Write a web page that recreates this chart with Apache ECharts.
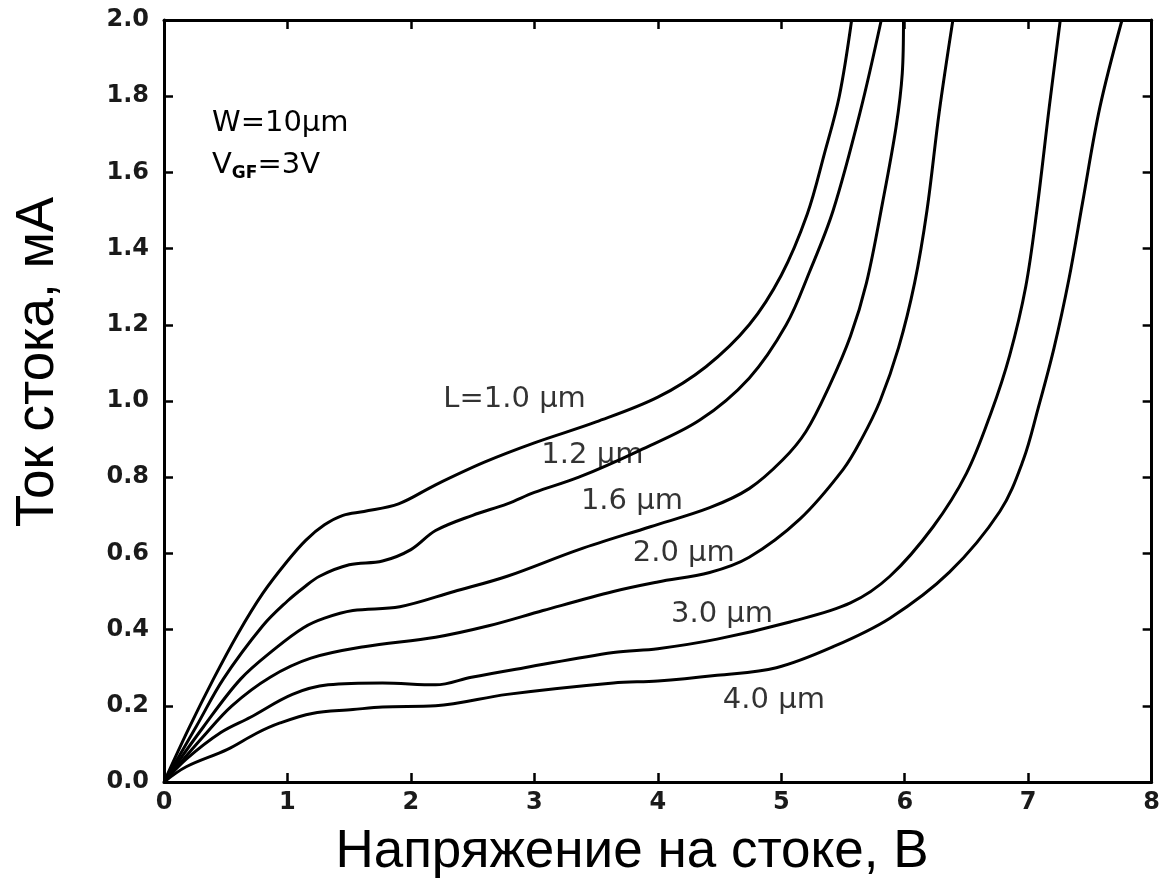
<!DOCTYPE html>
<html>
<head>
<meta charset="utf-8">
<script src="https://cdn.jsdelivr.net/npm/echarts@6/dist/echarts.min.js"></script>
<style>
html,body{margin:0;padding:0;background:#fff;}
#chart{width:1163px;height:879px;}
</style>
</head>
<body>
<div id="chart"></div>
<script>
// Drain voltage (V) vs drain current (mA), one array per channel length
const curveL10 = [[0,0],[0.2,0.14],[0.4,0.27],[0.6,0.39],[0.8,0.495],[1.0,0.58],[1.15,0.635],[1.3,0.675],[1.45,0.70],[1.62,0.71],[1.9,0.73],[2.2,0.78],[2.6,0.84],[3.0,0.89],[3.5,0.945],[4.0,1.01],[4.39,1.09],[4.74,1.20],[5.0,1.33],[5.21,1.49],[5.35,1.65],[5.47,1.80],[5.57,2.0]];
const curveL12 = [[0,0],[0.26,0.145],[0.48,0.27],[0.8,0.41],[1.0,0.475],[1.13,0.51],[1.26,0.54],[1.5,0.57],[1.77,0.58],[2.0,0.61],[2.2,0.66],[2.5,0.70],[2.78,0.73],[3.0,0.76],[3.36,0.80],[3.85,0.87],[4.34,0.95],[4.74,1.06],[5.04,1.20],[5.23,1.34],[5.42,1.50],[5.64,1.76],[5.81,2.0]];
const curveL16 = [[0,0],[0.32,0.145],[0.62,0.27],[0.9,0.35],[1.13,0.405],[1.3,0.43],[1.53,0.45],[1.91,0.46],[2.35,0.50],[2.78,0.54],[3.36,0.61],[3.94,0.67],[4.42,0.72],[4.74,0.77],[5.01,0.845],[5.2,0.92],[5.39,1.04],[5.56,1.17],[5.69,1.31],[5.82,1.52],[5.93,1.72],[5.98,1.86],[5.99,2.0]];
const curveL20 = [[0,0],[0.32,0.12],[0.55,0.2],[0.86,0.275],[1.19,0.325],[1.62,0.355],[2.2,0.38],[2.63,0.41],[3.07,0.45],[3.64,0.50],[4.0,0.525],[4.42,0.55],[4.74,0.59],[5.15,0.69],[5.5,0.82],[5.65,0.90],[5.8,1.0],[5.95,1.14],[6.08,1.31],[6.18,1.50],[6.28,1.76],[6.39,2.0]];
const curveL30 = [[0,0],[0.18,0.06],[0.46,0.13],[0.7,0.17],[1.04,0.23],[1.33,0.255],[1.77,0.26],[2.2,0.255],[2.49,0.275],[2.92,0.30],[3.64,0.34],[4.0,0.35],[4.48,0.375],[5.07,0.42],[5.56,0.47],[5.88,0.54],[6.23,0.67],[6.5,0.81],[6.7,0.97],[6.85,1.12],[6.98,1.30],[7.07,1.50],[7.17,1.77],[7.26,2.0]];
const curveL40 = [[0,0],[0.18,0.04],[0.51,0.085],[0.75,0.128],[0.94,0.155],[1.2,0.18],[1.53,0.19],[1.77,0.197],[2.2,0.20],[2.78,0.23],[3.64,0.26],[4.0,0.265],[4.48,0.28],[4.96,0.30],[5.42,0.355],[5.88,0.43],[6.36,0.55],[6.77,0.71],[6.96,0.845],[7.08,0.98],[7.21,1.14],[7.33,1.32],[7.44,1.52],[7.58,1.77],[7.76,2.0]];

const curveNames = ['L=1.0 µm','1.2 µm','1.6 µm','2.0 µm','3.0 µm','4.0 µm'];
const curves = [curveL10, curveL12, curveL16, curveL20, curveL30, curveL40];
// label anchors in data coordinates (V, mA)
const labelAnchors = [[2.84,1.003],[3.47,0.856],[3.79,0.735],[4.21,0.60],[4.52,0.44],[4.94,0.215]];

const xTitle = 'Напряжение на стоке, В';
const yTitle = 'Ток стока, мА';

const chart = echarts.init(document.getElementById('chart'));
const tickFont = {fontFamily:'DejaVu Sans, sans-serif', fontSize:24, fontWeight:'bold', color:'#1a1a1a'};
const frameAxis = {
  axisLine:{show:true, onZero:false, lineStyle:{color:'#000', width:3}},
  axisTick:{show:true, inside:true, length:9, lineStyle:{color:'#000', width:2.5}},
  splitLine:{show:false}
};

const series = curves.map((c) => ({
  type:'line', data:c, xAxisIndex:0, yAxisIndex:0,
  smooth:0.35, showSymbol:false, symbol:'none', silent:true,
  lineStyle:{color:'#000', width:3}, z:3
}));
series.push({
  type:'scatter', xAxisIndex:0, yAxisIndex:0, symbolSize:0, silent:true, z:5,
  data: labelAnchors.map((p,i)=>({value:p, name:curveNames[i]})),
  label:{show:true, position:'inside', formatter:p=>p.name,
    fontFamily:'DejaVu Sans, sans-serif', fontSize:29, color:'#000'}
});

chart.setOption({
  animation:false,
  backgroundColor:'#fff',
  grid:{left:164, right:11, top:20, bottom:97, show:false},
  xAxis:[Object.assign({
    type:'value', min:0, max:8, interval:1, position:'bottom',
    axisLabel:Object.assign({margin:9, formatter:v=>String(v)}, tickFont)
  }, frameAxis), Object.assign({
    type:'value', min:0, max:8, interval:1, position:'top',
    axisLabel:{show:false}
  }, frameAxis)],
  yAxis:[Object.assign({
    type:'value', min:0, max:2, interval:0.2, position:'left',
    axisLabel:Object.assign({margin:15, formatter:v=>v.toFixed(1)}, tickFont)
  }, frameAxis), Object.assign({
    type:'value', min:0, max:2, interval:0.2, position:'right',
    axisLabel:{show:false}
  }, frameAxis)],
  graphic:[{
    type:'text', left:212, top:109, z:10,
    style:{text:'W=10µm', font:'29px "DejaVu Sans", sans-serif', fill:'#000'}
  },{
    type:'text', left:212, top:151, z:10,
    style:{text:'{n|V}{s|GF}{n|=3V}', fill:'#000',
      rich:{n:{fontFamily:'DejaVu Sans, sans-serif', fontSize:29, fill:'#000'},
            s:{fontFamily:'DejaVu Sans, sans-serif', fontSize:17, fontWeight:'bold', fill:'#000', padding:[16,0,0,0]}}}
  },{
    type:'text', x:632, y:852, z:10,
    style:{text:xTitle, font:'53px "Liberation Sans", Arial, sans-serif', fill:'#000', align:'center', verticalAlign:'middle'}
  },{
    type:'text', x:38, y:362, rotation:Math.PI/2, z:10,
    style:{text:yTitle, font:'53px "Liberation Sans", Arial, sans-serif', fill:'#000', align:'center', verticalAlign:'middle'}
  }],
  series:series
});
</script>
</body>
</html>
